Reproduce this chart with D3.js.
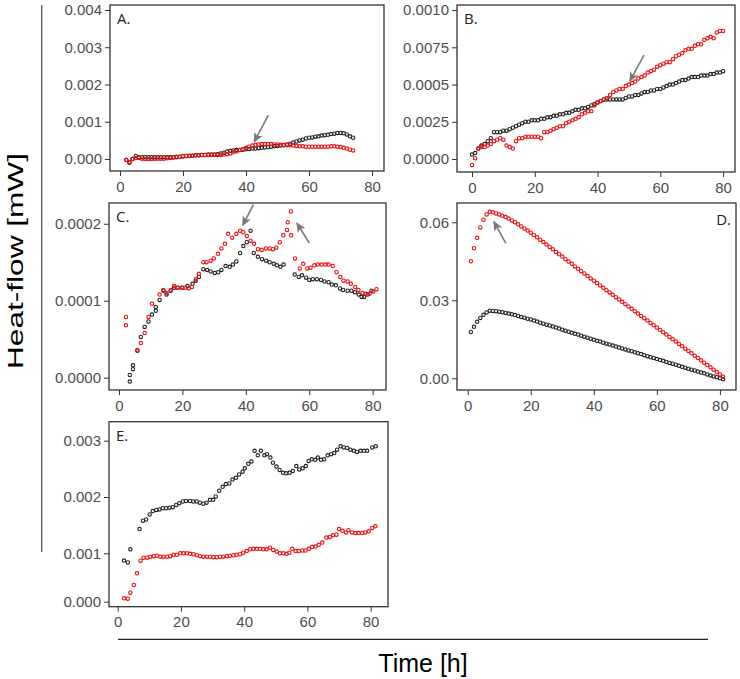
<!DOCTYPE html>
<html>
<head>
<meta charset="utf-8">
<script src="https://cdn.jsdelivr.net/npm/d3@7"></script>
<style>
  body { margin: 0; background: #fff; }
  .axis text { font-family: "Liberation Sans", Arial, sans-serif; font-size: 15px; fill: #4d4d4d; }
  .axis line { stroke: #333; stroke-width: 1; }
  .axis path { display: none; }
  .panel-label { font-family: "Open Sans", sans-serif; font-size: 15px; fill: #222; }
  .title { font-family: "Liberation Sans", Arial, sans-serif; fill: #000; }
</style>
</head>
<body>
<div id="chart"></div>
<script>
// ---- data (heat-flow in mW, time in h) ----
var hourTicks = [0, 20, 40, 60, 80];

// A: one reading per hour from t = 2
var aStart = 2;
var aBlack = [-0.00003,-0.0001,0.0,0.00008,0.00005,0.00005,0.00005,0.00005,0.00005,0.00005,0.00005,0.00005,0.00005,0.00005,
  0.00005,0.00005,0.00006,0.00006,0.00007,0.00008,0.00008,0.00009,0.0001,0.0001,0.00011,0.00011,0.00012,0.00012,0.00012,
  0.00013,0.00015,0.00017,0.0002,0.00022,0.00023,0.00024,0.00024,0.00025,0.00026,0.00027,0.00028,0.00028,0.00029,0.0003,
  0.00031,0.00032,0.00033,0.00034,0.00035,0.00036,0.00037,0.00039,0.00041,0.00044,0.00047,0.0005,0.00052,0.00055,0.00057,
  0.00058,0.0006,0.00061,0.00063,0.00064,0.00065,0.00067,0.00068,0.0007,0.0007,0.00069,0.00066,0.00061,0.00057];
var aRed = [-0.00002,-0.00008,0.0,0.00003,0.00003,0.00001,0.0,0.0,0.0,0.00001,0.00001,0.00001,0.00001,0.00002,0.00003,
  0.00004,0.00005,0.00006,0.00008,0.00008,0.00009,0.00009,0.0001,0.0001,0.00011,0.00011,0.00011,0.00011,0.00011,0.00011,
  0.00011,0.00012,0.00013,0.00015,0.00018,0.00021,0.00024,0.00027,0.0003,0.00033,0.00036,0.00038,0.00039,0.0004,0.0004,
  0.0004,0.0004,0.00039,0.00039,0.00038,0.00038,0.00037,0.00037,0.00036,0.00035,0.00034,0.00034,0.00033,0.00033,0.00033,
  0.00033,0.00033,0.00033,0.00033,0.00033,0.00034,0.00034,0.00033,0.00032,0.0003,0.00028,0.00025,0.00023];

// B: one reading per hour from t = 0
var bStart = 0;
var bBlack = [0.00003,0.00004,0.00007,0.00009,0.0001,0.00012,0.00014,0.00018,0.00018,0.00018,0.00019,0.00019,0.0002,0.00021,
  0.00022,0.00023,0.00024,0.00025,0.00025,0.00026,0.00026,0.00026,0.00027,0.00027,0.00028,0.00028,0.00029,0.00029,0.0003,
  0.0003,0.00031,0.00031,0.00032,0.00033,0.00033,0.00034,0.00034,0.00035,0.00036,0.00037,0.00038,0.00039,0.0004,0.0004,
  0.0004,0.0004,0.0004,0.0004,0.0004,0.00041,0.00042,0.00042,0.00043,0.00043,0.00044,0.00045,0.00045,0.00046,0.00046,
  0.00047,0.00047,0.00048,0.00049,0.0005,0.0005,0.00051,0.00052,0.00053,0.00053,0.00054,0.00055,0.00055,0.00055,0.00056,
  0.00056,0.00056,0.00057,0.00057,0.00058,0.00058,0.00059];
var bRed = [-0.00004,0.000005,0.00007,0.00008,0.00008,0.00009,0.0001,0.00012,0.00013,0.00014,0.00013,0.00009,0.00008,0.00007,
  0.00012,0.00014,0.00014,0.00015,0.00015,0.00015,0.00015,0.00015,0.00014,0.00018,0.00018,0.00019,0.0002,0.00021,0.00022,
  0.00022,0.00024,0.00025,0.00026,0.00027,0.00028,0.0003,0.00031,0.00032,0.00032,0.00036,0.00038,0.00039,0.0004,0.00041,
  0.00043,0.00045,0.00046,0.00047,0.00047,0.00049,0.0005,0.00051,0.00052,0.00054,0.00055,0.00056,0.00058,0.00059,0.0006,
  0.00062,0.00063,0.00064,0.00065,0.00065,0.00067,0.00069,0.0007,0.00071,0.00073,0.00074,0.00074,0.00076,0.00077,0.00077,
  0.0008,0.00081,0.00082,0.00081,0.00085,0.00086,0.00086];

// C: [time, value]
var cBlack = [[3.4,-0.000005],[3.4,0.0000035],[4.4,0.000011],[4.4,0.000016],[5.8,0.000035],[6.9,0.000053],[8.1,0.000066],
  [9.3,0.000073],[10.4,0.000082],[11.6,0.000087],[11.6,0.000092],[12.8,0.000101],[14,0.000113],[15,0.000108],[16.3,0.000113],
  [17.4,0.000117],[18.5,0.000117],[20,0.000117],[21.6,0.000119],[23.2,0.000122],[24.2,0.000126],[25.2,0.000131],[26.6,0.000141],
  [27.8,0.00014],[28.9,0.000138],[30.2,0.000136],[31.3,0.000137],[32.3,0.00014],[33.6,0.000145],[34.9,0.000144],[35.9,0.000147],
  [37,0.000151],[38.2,0.000162],[39.2,0.000171],[40.3,0.000176],[41.5,0.000191],[42.5,0.000162],[43.8,0.000157],[45.1,0.000154],
  [46.4,0.000152],[47.5,0.00015],[48.8,0.000148],[49.8,0.000146],[50.9,0.000144],[51.9,0.000147],[55.4,0.000134],[56.7,0.000131],
  [57.7,0.000133],[59,0.00013],[60,0.000127],[61.1,0.000128],[62.4,0.000128],[63.7,0.000127],[64.8,0.000125],[66.1,0.000124],
  [67.1,0.000121],[68.4,0.00012],[69.7,0.000116],[70.7,0.000114],[72.1,0.000113],[73.3,0.000113],[74.4,0.000111],
  [75.6,0.000108],[76.5,0.000105],[77.3,0.000105],[78.4,0.000108],[79.6,0.000113]];
var cRed = [[2.2,0.000079],[2.2,0.000068],[5.8,0.000036],[6.9,0.000045],[8.1,0.000058],[9.3,0.000079],[10.4,0.000096],
  [12.8,0.000108],[14,0.000114],[15,0.00011],[16.3,0.000114],[17.4,0.000119],[18.5,0.000117],[19.8,0.000117],[20.9,0.000117],
  [22,0.000116],[23,0.000118],[24.2,0.000128],[25.2,0.000135],[26.6,0.00015],[27.6,0.00015],[28.9,0.000152],[29.9,0.000155],
  [31.2,0.000161],[32.3,0.000168],[33.4,0.000174],[34.4,0.000187],[35.7,0.000182],[37,0.000187],[38.2,0.000191],[39.2,0.000189],
  [40.3,0.000184],[41.5,0.000178],[42.6,0.000174],[43.8,0.000167],[45,0.000166],[46.3,0.000168],[47.5,0.000168],[48.5,0.000167],
  [49.6,0.000169],[50.7,0.000176],[51.8,0.000185],[53,0.000192],[53.2,0.000202],[54.2,0.000216],[54.3,0.000185],[55.5,0.000155],
  [57,0.000142],[58.1,0.000148],[59.4,0.000142],[60.4,0.000143],[61.6,0.000146],[62.7,0.000147],[63.9,0.000147],[65.1,0.000147],
  [66.1,0.000147],[67.4,0.000145],[68.6,0.000137],[69.8,0.000131],[70.8,0.000126],[72.1,0.000125],[73.1,0.000122],
  [74.5,0.000118],[75.5,0.000114],[76.8,0.00011],[77.8,0.000109],[79,0.000109],[80.2,0.000112],[81.2,0.000115]];

// D: one reading per hour from t = 1
var dStart = 1;
var dBlack = [0.0178,0.0198,0.0217,0.0232,0.0244,0.0253,0.026,0.0259,0.0258,0.0256,0.0254,0.0251,0.0249,0.0246,0.0243,
  0.024,0.0236,0.0233,0.0229,0.0226,0.0222,0.0218,0.0214,0.021,0.0206,0.0203,0.0199,0.0195,0.0191,0.0187,0.0183,0.0179,
  0.0175,0.0171,0.0168,0.0164,0.016,0.0156,0.0152,0.0148,0.0144,0.0141,0.0137,0.0133,0.013,0.0126,0.0122,0.0118,0.0115,
  0.0111,0.0107,0.0104,0.01,0.0096,0.0093,0.0089,0.0085,0.0081,0.0078,0.0074,0.007,0.0067,0.0063,0.0059,0.0056,0.0052,
  0.0048,0.0044,0.0041,0.0037,0.0033,0.003,0.0026,0.0022,0.0019,0.0015,0.0011,0.0007,0.0004,0.0,-0.0004];
var dRed = [0.045,0.05,0.054,0.058,0.061,0.063,0.064,0.0638,0.0634,0.063,0.0625,0.062,0.0614,0.0607,0.06,0.0592,0.0584,
  0.0576,0.0568,0.056,0.0551,0.0542,0.0533,0.0524,0.0514,0.0505,0.0496,0.0486,0.0477,0.0468,0.0458,0.0449,0.044,0.043,
  0.0421,0.0412,0.0403,0.0393,0.0384,0.0375,0.0366,0.0357,0.0348,0.0339,0.033,0.0321,0.0312,0.0303,0.0294,0.0285,0.0276,
  0.0267,0.0258,0.0249,0.024,0.0231,0.0222,0.0213,0.0204,0.0195,0.0186,0.0177,0.0168,0.0159,0.015,0.0141,0.0132,0.0123,
  0.0114,0.0105,0.0096,0.0087,0.0078,0.0069,0.006,0.0051,0.0042,0.0033,0.0024,0.0015,0.0006];

// E: [time, value]
var eBlack = [[2,0.00085],[3.2,0.00081],[4,0.00107],[6.9,0.00143],[8,0.00158],[9,0.0016],[10.1,0.00169],[11.1,0.00175],
  [12.2,0.00177],[13.2,0.00178],[14.3,0.0018],[15.3,0.0018],[16.4,0.00181],[17.4,0.00182],[18.5,0.00186],[19.5,0.00189],
  [20.6,0.00192],[21.6,0.00193],[22.9,0.00193],[23.9,0.00192],[25,0.00192],[26,0.0019],[27.1,0.00188],[28.1,0.0019],
  [29.2,0.00195],[30.2,0.00195],[31,0.00201],[32.1,0.00211],[33.2,0.00218],[34.2,0.00223],[35.3,0.00224],[36.3,0.00231],
  [37.4,0.00234],[38.4,0.0024],[39.5,0.00245],[40.2,0.00251],[41.3,0.00259],[42.3,0.00263],[43.3,0.00282],[44.3,0.00274],
  [45.3,0.00282],[46.4,0.00274],[47.2,0.00276],[48.3,0.0027],[49.1,0.00261],[50.2,0.00254],[51.2,0.00248],[52.3,0.00243],
  [53.3,0.00242],[54.4,0.00243],[55.4,0.00246],[56.5,0.00255],[57.4,0.00249],[58.5,0.00251],[59.5,0.00255],[60.4,0.00264],
  [61.4,0.00267],[62.5,0.00266],[63.3,0.0027],[64.3,0.00266],[65.3,0.00267],[66.4,0.00274],[67.5,0.00276],[68.5,0.00278],
  [69.4,0.00284],[70.5,0.0029],[71.5,0.00288],[72.6,0.00287],[73.6,0.00284],[74.7,0.00282],[75.7,0.0028],[76.8,0.00282],
  [77.9,0.00282],[78.9,0.00282],[80.5,0.00288],[81.6,0.0029]];
var eRed = [[2,0.00007],[3.2,0.000063],[4,0.000186],[5.1,0.000345],[6.1,0.000587],[7.2,0.000847],[8.2,0.00091],[9.3,0.00091],
  [10.3,0.00093],[11.4,0.00094],[12.4,0.00095],[13.5,0.00093],[14.5,0.00093],[15.6,0.00093],[16.6,0.00094],[17.7,0.00097],
  [18.7,0.00097],[19.8,0.001],[20.8,0.001],[21.9,0.001],[22.9,0.00099],[24,0.00098],[25,0.00096],[26.1,0.00094],[27.1,0.00093],
  [28.2,0.00093],[29.2,0.00093],[30.3,0.00092],[31.3,0.00092],[32.4,0.00093],[33.4,0.00093],[34.5,0.00094],[35.5,0.00095],
  [36.6,0.00096],[37.6,0.00097],[38.7,0.00098],[39.7,0.00101],[40.8,0.00104],[41.9,0.00107],[42.9,0.00108],[44,0.00108],
  [45,0.00108],[46.1,0.00107],[47.1,0.00107],[48.2,0.0011],[49.2,0.00106],[50.3,0.00103],[51.3,0.001],[52.4,0.001],
  [53.4,0.00099],[54.3,0.00101],[55.2,0.00108],[56.3,0.00104],[57.3,0.00104],[58.4,0.00105],[59.4,0.00105],[60.5,0.00108],
  [61.5,0.00111],[62.6,0.00112],[63.6,0.00115],[64.7,0.00119],[66,0.00128],[67.1,0.00129],[68.1,0.00132],[69.2,0.00133],
  [70,0.00143],[71.1,0.0014],[72.2,0.00137],[73,0.00141],[74.1,0.00137],[75.2,0.00136],[76.2,0.00136],[77.3,0.00136],
  [78.3,0.00137],[79.4,0.00139],[80.5,0.00145],[81.5,0.00148]];

// y tick values + the labels as printed on the figure
var aTicks = [0, 0.001, 0.002, 0.003, 0.004];
var bTicks = [0, 0.00025, 0.0005, 0.00075, 0.001];
var bTickLabels = ["0.0000", "0.0025", "0.0005", "0.0075", "0.0010"];
var cTicks = [0, 0.0001, 0.0002];
var dTicks = [0, 0.03, 0.06];
var eTicks = [0, 0.001, 0.002, 0.003];

// arrows: [tailTime, tailValue, tipTime, tipValue]
var aArrows = [[47.1, 0.00118, 42.6, 0.00046]];
var bArrows = [[54.8, 0.000698, 50.3, 0.000523]];
var cArrows = [[42.4, 0.000225, 39.0, 0.000198], [60.0, 0.000175, 56.1, 0.000201]];
var dArrows = [[12.1, 0.0519, 8.3, 0.0602]];

function toPairs(start, values) {
  return values.map(function(v, i) { return [start + i, v]; });
}

HeatPanel = function(_svg, _cfg) {
  this.svg = _svg;
  this.cfg = _cfg;
  this.initVis();
};

HeatPanel.prototype.initVis = function() {
  var vis = this;
  var c = vis.cfg;

  vis.g = vis.svg.append("g").attr("class", "panel");

  vis.xScale = d3.scaleLinear()
    .domain(c.xDomain)
    .range([c.box.x, c.box.x + c.box.w]);

  vis.yScale = d3.scaleLinear()
    .domain(c.yDomain)
    .range(c.yRange || [c.box.y + c.box.h, c.box.y]);

  vis.g.append("rect")
    .attr("x", c.box.x)
    .attr("y", c.box.y)
    .attr("width", c.box.w)
    .attr("height", c.box.h)
    .attr("fill", "none")
    .attr("stroke", "#333")
    .attr("stroke-width", 1.3);

  vis.xAxis = d3.axisBottom(vis.xScale)
    .tickValues(hourTicks)
    .tickSize(5)
    .tickPadding(5)
    .tickFormat(d3.format("d"));

  vis.yAxis = d3.axisLeft(vis.yScale)
    .tickValues(c.yTicks)
    .tickSize(5)
    .tickPadding(3)
    .tickFormat(function(d, i) {
      if (c.yLabels) return c.yLabels[i];
      return d3.format(c.yFormat)(d);
    });

  vis.g.append("g")
    .attr("class", "x-axis axis")
    .attr("transform", "translate(0," + (c.box.y + c.box.h) + ")")
    .call(vis.xAxis);

  vis.g.append("g")
    .attr("class", "y-axis axis")
    .attr("transform", "translate(" + c.box.x + ",0)")
    .call(vis.yAxis);

  var label = vis.g.append("text")
    .attr("class", "panel-label")
    .text(c.label);
  if (c.labelRight) {
    label.attr("x", c.box.x + c.box.w - 5).attr("y", c.box.y + 22).style("text-anchor", "end");
  } else {
    label.attr("x", c.box.x + 7).attr("y", c.box.y + 19);
  }

  c.series.forEach(function(s) {
    vis.g.selectAll(".pt-" + s.name)
      .data(s.data)
      .enter()
      .append("circle")
      .attr("class", "pt-" + s.name)
      .attr("cx", function(d) { return vis.xScale(d[0]); })
      .attr("cy", function(d) { return vis.yScale(d[1]); })
      .attr("r", 1.7)
      .attr("fill", "none")
      .attr("stroke", s.color)
      .attr("stroke-width", 1.1);
  });

  vis.g.selectAll(".arrow")
    .data(c.arrows || [])
    .enter()
    .append("line")
    .attr("class", "arrow")
    .attr("x1", function(d) { return vis.xScale(d[0]); })
    .attr("y1", function(d) { return vis.yScale(d[1]); })
    .attr("x2", function(d) { return vis.xScale(d[2]); })
    .attr("y2", function(d) { return vis.yScale(d[3]); })
    .attr("stroke", "#7a7a7a")
    .attr("stroke-width", 1.6)
    .attr("marker-end", "url(#arrowhead)");
};

var svg = d3.select("#chart").append("svg")
  .attr("width", 740)
  .attr("height", 679);

svg.append("defs").append("marker")
  .attr("id", "arrowhead")
  .attr("markerUnits", "userSpaceOnUse")
  .attr("viewBox", "0 0 10 10")
  .attr("refX", 9)
  .attr("refY", 5)
  .attr("markerWidth", 10)
  .attr("markerHeight", 10)
  .attr("orient", "auto")
  .append("path")
  .attr("d", "M0,0.5 L10,5 L0,9.5 L2.5,5 Z")
  .attr("fill", "#7a7a7a");

var black = "#222", red = "#ee1111";

new HeatPanel(svg, {
  label: "A.", box: {x: 110, y: 5, w: 274, h: 166},
  xDomain: [-3.17, 83.8], yDomain: [-0.000322, 0.004134],
  yTicks: aTicks, yFormat: ".3f", arrows: aArrows,
  series: [{name: "ab", data: toPairs(aStart, aBlack), color: black},
           {name: "ar", data: toPairs(aStart, aRed), color: red}]
});

new HeatPanel(svg, {
  label: "B.", box: {x: 457, y: 5, w: 278, h: 167},
  xDomain: [-4.78, 83.8], yDomain: [-0.0000872, 0.001034],
  yTicks: bTicks, yLabels: bTickLabels, arrows: bArrows,
  series: [{name: "bb", data: toPairs(bStart, bBlack), color: black},
           {name: "br", data: toPairs(bStart, bRed), color: red}]
});

new HeatPanel(svg, {
  label: "C.", box: {x: 109, y: 203, w: 277, h: 187},
  xDomain: [-3.15, 84.2], yDomain: [-0.000016, 0.000227],
  yTicks: cTicks, yFormat: ".4f", arrows: cArrows,
  series: [{name: "cb", data: cBlack, color: black},
           {name: "cr", data: cRed, color: red}]
});

new HeatPanel(svg, {
  label: "D.", labelRight: true, box: {x: 457, y: 203, w: 279, h: 187},
  xDomain: [-3.39, 85.1], yDomain: [-0.0045, 0.0674],
  yTicks: dTicks, yFormat: ".2f", arrows: dArrows,
  series: [{name: "db", data: toPairs(dStart, dBlack), color: black},
           {name: "dr", data: toPairs(dStart, dRed), color: red}]
});

// E's printed ticks are not evenly spaced, so the y scale is polylinear
new HeatPanel(svg, {
  label: "E.", box: {x: 109, y: 421.7, w: 279, h: 185},
  xDomain: [-2.75, 85.5],
  yDomain: [-0.000103, 0, 0.001, 0.003, 0.003337],
  yRange: [606.7, 601.7, 553.3, 440.7, 421.7],
  yTicks: eTicks, yFormat: ".3f",
  series: [{name: "eb", data: eBlack, color: black},
           {name: "er", data: eRed, color: red}]
});

// shared axis titles and guide lines
svg.append("line")
  .attr("x1", 41.7).attr("x2", 41.7)
  .attr("y1", 5).attr("y2", 552)
  .attr("stroke", "#555").attr("stroke-width", 1.3);

svg.append("line")
  .attr("x1", 118).attr("x2", 708)
  .attr("y1", 639.3).attr("y2", 639.3)
  .attr("stroke", "#222").attr("stroke-width", 1.3);

svg.append("text")
  .attr("class", "title")
  .attr("transform", "translate(23,261) rotate(-90)")
  .attr("text-anchor", "middle")
  .attr("textLength", 216)
  .attr("lengthAdjust", "spacingAndGlyphs")
  .style("font-size", "22px")
  .text("Heat-flow [mW]");

svg.append("text")
  .attr("class", "title")
  .attr("x", 423)
  .attr("y", 672)
  .attr("text-anchor", "middle")
  .style("font-size", "25px")
  .text("Time [h]");
</script>
</body>
</html>
